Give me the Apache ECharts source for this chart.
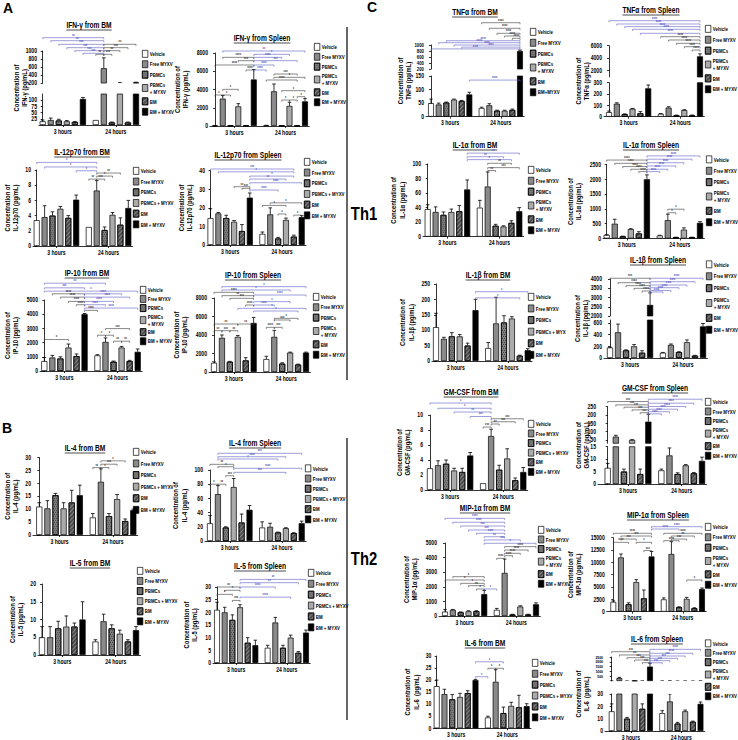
<!DOCTYPE html>
<html><head><meta charset="utf-8">
<script src="https://cdn.jsdelivr.net/npm/echarts@6.0.0/dist/echarts.min.js"></script>
<style>html,body{margin:0;padding:0;background:#fff}#c{width:738px;height:740px}</style>
</head><body><div id="c"></div><script>
const FF = "'Liberation Sans Narrow','Arial Narrow','Liberation Sans',Arial,sans-serif";
const SX = 0.78; // horizontal condensing of all text set in FF
const treatments = ['Vehicle','Free MYXV','PBMCs','PBMCs + MYXV','BM','BM + MYXV'];
const timepoints = ['3 hours','24 hours'];
const legendTwoLine = ['Vehicle','Free MYXV','PBMCs','PBMCs\n+ MYXV','BM','BM + MYXV'];
const legendOneLine = ['Vehicle','Free MYXV','PBMCs','PBMCs + MYXV','BM','BM + MYXV'];
const legendTnfBM = ['Vehicle','Free MYXV','PBMCs','PBMCs\n+ MYXV','BM','BM+MYXV'];
const legendIl1bBM = ['Vehicle','Free MYXV','PBMCs','PBMCs + MYX','BM','BM + MYXV'];

// values: 6 treatments at 3 hours, then 6 treatments at 24 hours
// significance: [barA, barB, y, label, blue]
const ifngBM_mean = [15, 20, 18, 15, 12, 105, 20, 570, 10, 208, 10, 215];
const ifngBM_sem  = [5, 8, 5, 3, 2, 6, 0, 260, 2, 4, 2, 5];
const ifngBM_ticks = [0, 25, 50, 75, 100, 125];
const ifngBM_ticksUp = [200, 400, 600, 800, 1000];
const ifngBM_sig = [[0,7,1333,'**',1],[1,7,1258,'**',1],[2,7,1167,'***',1],[3,7,1083,'***',1],[4,7,1008,'***',1],[5,7,942,'***',1],[7,11,1167,'**',0],[7,10,1083,'***',0],[7,9,1008,'**',0],[6,7,917,'**',0],[7,8,917,'***',0]];

const ifngSp_mean = [40, 3000, 30, 2150, 30, 5100, 60, 3800, 30, 2200, 30, 2700];
const ifngSp_sem  = [20, 350, 10, 300, 10, 1100, 20, 800, 10, 400, 10, 300];
const ifngSp_ticks = [0, 2000, 4000, 6000, 8000];
const ifngSp_sig = [[1,11,8220,'**',1],[5,9,7855,'*',1],[1,5,7525,'****',0],[5,8,7525,'****',1],[3,5,7160,'***',0],[5,10,7160,'***',1],[0,5,6685,'****',0],[5,7,6685,'****',1],[4,5,6137,'****',0],[5,6,6137,'****',1],[7,10,5698,'***',0],[7,11,5333,'*',0],[6,10,5041,'****',0],[1,3,4018,'*',0],[8,11,3872,'*',0],[0,1,3397,'*',0],[1,2,3397,'*',0],[10,11,3214,'*',0],[8,9,2849,'*',0],[9,10,2849,'*',0]];

const il12BM_mean = [3.4, 3.8, 4.0, 4.9, 3.7, 6.1, 2.5, 7.3, 2.1, 4.1, 2.8, 5.0];
const il12BM_sem  = [0, 1.5, 0.5, 0.3, 0.3, 0.6, 0, 1.3, 0.4, 0.3, 0.9, 1.0];
const il12BM_ticks = [0, 2, 4, 6, 8, 10];
const il12BM_sig = [[0,7,11.0,'*',1],[1,7,10.4,'*',1],[5,7,9.9,'*',1],[7,10,9.6,'**',0],[7,9,9.2,'*',0],[6,7,8.8,'**',0],[7,8,8.8,'***',0]];

const il12Sp_mean = [14.5, 17, 14.5, 12.5, 7.5, 25.5, 6, 16.5, 3.5, 13.5, 4.5, 15];
const il12Sp_sem  = [5, 0.5, 1.5, 0.7, 3.5, 2.5, 1, 3.5, 0.6, 1, 0.8, 0.8];
const il12Sp_ticks = [0, 10, 20, 30, 40];
const il12Sp_sig = [[0,10,40.9,'***',1],[1,10,39.4,'*',1],[5,10,37.1,'*',1],[5,9,35.5,'**',1],[5,11,33.5,'****',1],[3,5,31.4,'**',0],[4,5,30.5,'***',0],[5,8,29.6,'****',1],[7,11,22.7,'*',0],[6,9,21.3,'*',0],[8,9,16.7,'*',0],[10,11,16.1,'*',0]];

const ip10BM_mean = [700, 950, 880, 1650, 1050, 4000, 1100, 2050, 650, 1650, 700, 1350];
const ip10BM_sem  = [250, 150, 120, 250, 150, 50, 50, 280, 50, 80, 50, 200];
const ip10BM_ticks = [0, 1000, 2000, 3000, 4000, 5000];
const ip10BM_sig = [[0,7,6183,'**',1],[0,5,5857,'***',1],[0,11,5623,'*',1],[1,5,5437,'****',0],[5,9,5437,'****',1],[2,5,5203,'****',0],[5,10,5203,'****',1],[3,5,4900,'****',0],[5,8,4900,'****',1],[4,5,4667,'****',0],[5,7,4667,'****',1],[5,11,4433,'****',1],[5,6,4270,'****',0],[7,10,2987,'***',0],[0,3,2217,'*',0],[6,7,2520,'*',0],[7,8,2520,'*',0],[8,9,2100,'**',0],[9,10,2100,'**',0]];

const ip10Sp_mean = [1000, 3700, 1100, 3800, 1250, 5300, 1400, 3800, 900, 2100, 800, 2100];
const ip10Sp_sem  = [100, 300, 50, 150, 300, 600, 300, 700, 100, 50, 50, 50];
const ip10Sp_ticks = [0, 2000, 4000, 6000, 8000];
const ip10Sp_sig = [[1,11,9225,'*',1],[1,9,8865,'*',1],[0,5,8613,'****',0],[5,11,8324,'****',1],[1,5,8252,'**',0],[2,5,7963,'***',0],[5,9,7604,'*',1],[4,5,7243,'****',0],[5,7,7243,'****',1],[3,11,6883,'*',1],[5,10,6595,'*',1],[7,10,5802,'*',0],[7,9,5622,'***',0],[0,3,5189,'**',0],[3,5,5189,'**',0],[6,7,4829,'****',0],[7,8,4829,'***',0],[0,1,4468,'**',0],[1,2,4468,'***',0],[2,3,4468,'**',0]];

const il4BM_mean = [11, 10.3, 15.4, 10.3, 12.6, 15.4, 6.8, 20.6, 7.3, 13.9, 5.4, 9.6];
const il4BM_sem  = [1.5, 3, 0.7, 2.2, 4.7, 3.9, 1.5, 5, 1, 1.8, 0.8, 0.4];
const il4BM_ticks = [0, 5, 10, 15, 20, 25, 30];
const il4BM_sig = [[7,10,28.7,'*',0],[7,9,27.4,'***',0],[6,7,26.1,'**',0],[7,8,26.1,'*',0]];

const il4Sp_mean = [25, 66, 19, 76, 26, 44, 19, 20, 12, 18, 11, 25];
const il4Sp_sem  = [11, 12, 1, 12, 12, 6, 8, 5, 0.5, 0.7, 0.7, 3];
const il4Sp_ticks = [0, 20, 40, 60, 80, 100];
const il4Sp_sig = [[1,11,123.5,'***',1],[1,9,118.7,'****',1],[1,8,115.5,'*',1],[0,3,108,'**',0],[1,3,104.6,'*',0],[3,11,102.4,'****',1],[3,9,96.7,'***',1],[2,3,92,'***',0],[0,1,80,'*',0],[1,2,80,'**',0]];

const il5BM_mean = [5, 5, 7.5, 8, 8, 10, 3.8, 9.5, 7.5, 6, 3.8, 7];
const il5BM_sem  = [3, 3, 2, 3, 1, 5, 0.5, 2, 1, 1, 0.5, 1];
const il5BM_ticks = [0, 5, 10, 15, 20];
const il5BM_sig = [];

const il5Sp_mean = [21, 20, 17, 22, 8, 7, 6, 16, 6, 10, 4, 12];
const il5Sp_sem  = [3, 2, 2, 1, 2, 2, 1, 2, 1, 1, 0.5, 1];
const il5Sp_ticks = [0, 5, 10, 15, 20, 25, 30];
const il5Sp_sig = [[3,11,33,'**',1],[3,10,31.7,'**',1],[0,3,30,'**',0],[3,7,30,'****',1],[1,3,28.7,'*',0],[0,2,27.1,'*',0],[3,9,26,'****',1],[2,3,24.7,'***',0]];

const tnfBM_mean = [50, 45, 52, 63, 58, 82, 32, 42, 22, 22, 25, 800];
const tnfBM_sem  = [15, 5, 2, 2, 2, 8, 3, 6, 2, 2, 3, 30];
const tnfBM_ticks = [0, 50, 100, 150];
const tnfBM_ticksUp = [200, 400, 600, 800, 1000];
const tnfBM_sig = [[6,11,1743,'****',0],[7,11,1557,'****',0],[8,11,1390,'****',0],[9,11,1300,'****',0],[10,11,1223,'****',0],[2,11,1143,'****',1],[1,11,1077,'****',1],[3,11,1000,'****',1],[4,11,930,'****',1],[0,11,870,'****',1]];
const tnfBM_sigLow = [[5,11,135,'****',1]];

const tnfSp_mean = [40, 115, 22, 70, 30, 250, 25, 80, 12, 58, 12, 4300];
const tnfSp_sem  = [10, 8, 3, 3, 15, 30, 3, 8, 2, 4, 3, 400];
const tnfSp_ticks = [0, 100, 200, 300];
const tnfSp_ticksUp = [2000, 4000, 6000];
const tnfSp_sig = [[0,11,9990,'****',1],[1,11,9470,'****',1],[2,11,9040,'****',1],[3,11,8620,'****',1],[4,11,7980,'****',1],[6,11,7440,'****',0],[7,11,6910,'****',0],[8,11,6380,'****',0],[9,11,5840,'****',0],[10,11,5310,'****',0]];

const il1aBM_mean = [38, 34, 30, 34, 35, 65, 40, 69, 15, 14, 19, 35];
const il1aBM_sem  = [6, 7, 4, 4, 8, 13, 10, 20, 2, 1, 3, 5];
const il1aBM_ticks = [0, 20, 40, 60, 80, 100];
const il1aBM_sig = [[5,11,115,'**',1],[5,9,110,'**',1],[5,10,106,'*',1],[7,10,101,'**',0],[7,11,95,'***',0],[7,8,91,'**',0]];

const il1aSp_mean = [120, 500, 70, 320, 170, 2000, 100, 620, 40, 300, 40, 530];
const il1aSp_sem  = [10, 150, 10, 10, 60, 150, 10, 200, 5, 60, 5, 40];
const il1aSp_ticks = [0, 500, 1000, 1500, 2000, 2500];
const il1aSp_sig = [[5,11,2790,'****',1],[0,5,2650,'****',0],[5,10,2680,'****',1],[1,5,2540,'****',0],[5,9,2560,'****',1],[2,5,2430,'****',0],[5,8,2450,'****',1],[3,5,2340,'****',0],[5,7,2340,'****',1],[4,5,2260,'****',0],[5,6,2260,'****',1],[7,9,990,'*',0],[7,8,870,'*',0]];

const il1bBM_mean = [110, 72, 80, 80, 50, 165, 42, 122, 125, 138, 17, 35];
const il1bBM_sem  = [45, 5, 12, 6, 8, 35, 18, 85, 22, 6, 2, 5];
const il1bBM_ticks = [0, 50, 100, 150, 200, 250];
const il1bBM_sig = [[5,11,225,'*',1],[5,10,205,'*',1]];

const il1bSp_mean = [180, 440, 130, 200, 90, 2600, 90, 225, 100, 270, 40, 540];
const il1bSp_sem  = [5, 140, 10, 30, 35, 650, 5, 15, 8, 40, 5, 50];
const il1bSp_ticks = [0, 200, 400, 600];
const il1bSp_ticksUp = [2000, 2500, 3000, 3500, 4000];
const il1bSp_sig = [[0,5,4040,'***',0],[5,11,4040,'****',1],[5,10,3854,'****',1],[1,5,3800,'****',0],[5,9,3676,'****',1],[2,5,3640,'****',0],[5,8,3530,'****',1],[3,5,3495,'****',0],[5,7,3380,'****',1],[4,5,3350,'****',0],[5,6,3300,'****',1]];

const gmBM_mean = [2.9, 3.3, 3.5, 2.6, 2.4, 4.6, 0.9, 7.2, 2.7, 4.2, 1.3, 2.4];
const gmBM_sem  = [0, 0.6, 0.5, 0.3, 0.5, 0.4, 0, 0.9, 0.6, 1.3, 0.3, 0.6];
const gmBM_ticks = [0, 2, 4, 6, 8, 10];
const gmBM_sig = [[0,7,11.6,'*',1],[1,7,10.9,'*',1],[3,7,10.4,'**',1],[5,7,9.8,'***',1],[7,11,9.5,'***',0],[7,10,9.1,'***',0],[7,8,8.8,'**',0],[6,7,8.4,'***',0]];

const gmSp_mean = [6.5, 70, 5, 50, 4, 160, 5.5, 11.5, 4, 7.5, 4.3, 9.3];
const gmSp_sem  = [1.8, 8, 1, 2, 2, 45, 0.5, 3, 0.5, 0.3, 0.3, 1.5];
const gmSp_ticks = [0, 5, 10, 15];
const gmSp_ticksUp = [50, 100, 150, 200, 250];
const gmSp_sig = [[5,11,295,'****',1],[0,5,281,'***',0],[5,10,271,'****',1],[1,5,261,'***',0],[5,9,251,'****',1],[2,5,247,'***',0],[5,8,235,'****',1],[3,5,231,'***',0],[5,7,220,'****',1],[4,5,214,'***',0],[5,6,207,'****',1]];

const mipBM_mean = [300, 420, 250, 320, 330, 1500, 420, 2950, 100, 650, 100, 800];
const mipBM_sem  = [150, 30, 30, 40, 30, 250, 100, 950, 20, 50, 20, 100];
const mipBM_ticks = [0, 1000, 2000, 3000, 4000, 5000];
const mipBM_sig = [[0,7,6690,'****',1],[1,7,6420,'****',1],[2,7,6165,'***',1],[3,7,5890,'***',1],[4,7,5665,'****',1],[5,7,5430,'**',1],[5,9,5210,'***',1],[5,11,4980,'*',1],[7,11,4750,'****',0],[7,10,4520,'****',0],[7,9,4295,'****',0],[7,8,4130,'****',0],[6,7,3950,'****',0],[1,5,2694,'*',0],[0,5,2466,'*',0],[2,5,2237,'*',0],[3,5,2078,'**',0],[4,5,1850,'*',0],[5,6,1850,'*',1]];

const mipSp_mean = [2000, 11000, 1500, 6000, 2700, 11200, 2500, 11700, 900, 2600, 700, 4600];
const mipSp_sem  = [200, 700, 300, 500, 1700, 1000, 300, 2500, 100, 300, 100, 200];
const mipSp_ticks = [0, 2500, 5000, 7500, 10000, 12500, 15000];
const mipSp_sig = [[5,11,17230,'****',1],[5,8,16760,'****',1],[0,5,15890,'****',0],[6,11,15890,'****',0],[1,5,15340,'***',0],[7,10,15340,'**',0],[1,3,14730,'***',0],[7,9,14730,'***',0],[0,2,14060,'****',0],[3,5,14060,'*',0],[6,8,14400,'****',0],[4,5,12400,'***',0],[9,11,6425,'*',0]];

const il6BM_mean = [17.5, 14.2, 12, 13, 14.6, 20, 4.5, 19.3, 6.3, 9.3, 8.7, 9.2];
const il6BM_sem  = [2.5, 2, 2, 1.5, 1, 0.3, 0.5, 5, 2.5, 1.5, 5, 1];
const il6BM_ticks = [0, 5, 10, 15, 20, 25, 30];
const il6BM_sig = [[5,8,27.6,'*',1],[5,6,21.4,'*',1],[6,7,24.9,'*',0],[7,8,24.9,'*',0]];

const il6Sp_mean = [16, 300, 10, 31, 18, 1500, 14.5, 24, 6, 16, 7.5, 22];
const il6Sp_sem  = [6, 80, 1, 2, 4, 350, 2, 6, 1, 1, 0.5, 1.5];
const il6Sp_ticks = [0, 10, 20, 30];
const il6Sp_ticksUp = [500, 1000, 1500, 2000, 2500];
const il6Sp_sig = [[5,11,3300,'****',1],[0,5,3055,'***',0],[5,10,2885,'****',1],[1,5,2710,'**',0],[5,9,2605,'***',1],[2,5,2430,'***',0],[5,8,2362,'***',1],[3,5,2188,'***',0],[5,7,2118,'***',1],[4,5,1910,'***',0],[5,6,1900,'***',1]];

const DATA = {
  ifngBM:{mean:ifngBM_mean, sem:ifngBM_sem, ticks:ifngBM_ticks, ticksUp:ifngBM_ticksUp, sig:ifngBM_sig},
  ifngSp:{mean:ifngSp_mean, sem:ifngSp_sem, ticks:ifngSp_ticks, sig:ifngSp_sig},
  il12BM:{mean:il12BM_mean, sem:il12BM_sem, ticks:il12BM_ticks, sig:il12BM_sig},
  il12Sp:{mean:il12Sp_mean, sem:il12Sp_sem, ticks:il12Sp_ticks, sig:il12Sp_sig},
  ip10BM:{mean:ip10BM_mean, sem:ip10BM_sem, ticks:ip10BM_ticks, sig:ip10BM_sig},
  ip10Sp:{mean:ip10Sp_mean, sem:ip10Sp_sem, ticks:ip10Sp_ticks, sig:ip10Sp_sig},
  il4BM:{mean:il4BM_mean, sem:il4BM_sem, ticks:il4BM_ticks, sig:il4BM_sig},
  il4Sp:{mean:il4Sp_mean, sem:il4Sp_sem, ticks:il4Sp_ticks, sig:il4Sp_sig},
  il5BM:{mean:il5BM_mean, sem:il5BM_sem, ticks:il5BM_ticks, sig:il5BM_sig},
  il5Sp:{mean:il5Sp_mean, sem:il5Sp_sem, ticks:il5Sp_ticks, sig:il5Sp_sig},
  tnfBM:{mean:tnfBM_mean, sem:tnfBM_sem, ticks:tnfBM_ticks, ticksUp:tnfBM_ticksUp, sig:tnfBM_sig, sigLow:tnfBM_sigLow},
  tnfSp:{mean:tnfSp_mean, sem:tnfSp_sem, ticks:tnfSp_ticks, ticksUp:tnfSp_ticksUp, sig:tnfSp_sig},
  il1aBM:{mean:il1aBM_mean, sem:il1aBM_sem, ticks:il1aBM_ticks, sig:il1aBM_sig},
  il1aSp:{mean:il1aSp_mean, sem:il1aSp_sem, ticks:il1aSp_ticks, sig:il1aSp_sig},
  il1bBM:{mean:il1bBM_mean, sem:il1bBM_sem, ticks:il1bBM_ticks, sig:il1bBM_sig},
  il1bSp:{mean:il1bSp_mean, sem:il1bSp_sem, ticks:il1bSp_ticks, ticksUp:il1bSp_ticksUp, sig:il1bSp_sig},
  gmBM:{mean:gmBM_mean, sem:gmBM_sem, ticks:gmBM_ticks, sig:gmBM_sig},
  gmSp:{mean:gmSp_mean, sem:gmSp_sem, ticks:gmSp_ticks, ticksUp:gmSp_ticksUp, sig:gmSp_sig},
  mipBM:{mean:mipBM_mean, sem:mipBM_sem, ticks:mipBM_ticks, sig:mipBM_sig},
  mipSp:{mean:mipSp_mean, sem:mipSp_sem, ticks:mipSp_ticks, sig:mipSp_sig},
  il6BM:{mean:il6BM_mean, sem:il6BM_sem, ticks:il6BM_ticks, sig:il6BM_sig},
  il6Sp:{mean:il6Sp_mean, sem:il6Sp_sem, ticks:il6Sp_ticks, ticksUp:il6Sp_ticksUp, sig:il6Sp_sig}
};

// layout (pixel positions/styles only)
const LAYOUT = [
 {k:'ifngBM', t:'IFN-\u03b3 from BM', tx:89, ty:25, n:'IFN-\u03b3 (pg/mL)', no:19, ax:39, b0:42.7, b1:136, lo:[94,125,125], up:[51,83,200,1000], lx:142, ly:50, lg:2, lab:'two'},
 {k:'ifngSp', t:'IFN-\u03b3 from Spleen', tx:262, ty:38, n:'IFN-\u03b3 (pg/mL)', no:20, ax:210, b0:215, b1:305, lo:[53,126,8000], lx:314, ly:43, lg:1.5, lab:'two'},
 {k:'il12BM', t:'IL-12p70 from BM', tx:82, ty:152, n:'IL-12p70 (pg/mL)', no:15, ax:33, b0:36.7, b1:128.3, lo:[170,246,10], lx:133, ly:167, lg:2.3, lab:'one'},
 {k:'il12Sp', t:'IL-12p70 from Spleen', tx:248, ty:155, n:'IL-12p70 (pg/mL)', no:19, ax:207, b0:210.5, b1:301.7, lo:[170.7,245,40], lx:304, ly:158, lg:2.3, lab:'one'},
 {k:'ip10BM', t:'IP-10 from BM', tx:87, ty:273, n:'IP-10 (pg/mL)', no:21, ax:40, b0:44.3, b1:137.7, lo:[300,371,5000], lx:140, ly:286, lg:0.7, lab:'two'},
 {k:'ip10Sp', t:'IP-10 from Spleen', tx:253, ty:275, n:'IP-10 (pg/mL)', no:21, ax:209, b0:214, b1:306, lo:[298,372,8000], lx:313, ly:293, lg:2, lab:'two'},
 {k:'il4BM', t:'IL-4 from BM', tx:85, ty:448, n:'IL-4 (pg/mL)', no:17.5, ax:33, b0:39.3, b1:133.3, lo:[457.5,535,30], lx:133, ly:448, lg:3.2, lab:'one'},
 {k:'il4Sp', t:'IL-4 from Spleen', tx:255, ty:443, n:'IL-4 (pg/mL)', no:17.5, ax:205, b0:210, b1:301.7, lo:[470,541,100], lx:305, ly:464.5, lg:1.8, lab:'one'},
 {k:'il5BM', t:'IL-5 from BM', tx:90, ty:563, n:'IL-5 (pg/mL)', no:19, ax:38, b0:42, b1:136, lo:[584,655,20], lx:137, ly:567, lg:1.7, lab:'one'},
 {k:'il5Sp', t:'IL-5 from Spleen', tx:260, ty:566, n:'IL-5 (pg/mL)', no:23, ax:213, b0:217, b1:306, lo:[587,663,30], lx:308, ly:569, lg:2.5, lab:'one'},
 {k:'tnfBM', t:'TNF\u03b1 from BM', tx:475, ty:12, n:'TNF\u03b1 (pg/mL)', no:22, ax:426, b0:431, b1:520, lo:[76,116.7,150], up:[45,69,200,1000], uf:5.5, lx:530, ly:28, lg:2.5, lab:'tnf'},
 {k:'tnfSp', t:'TNF\u03b1 from Spleen', tx:651, ty:10, n:'TNF\u03b1 (pg/mL)', no:22, ax:604, b0:609, b1:700, lo:[82.7,116.7,300], up:[45.7,77,1000,6000], lx:705, ly:25, lg:2.5, lab:'two'},
 {k:'il1aBM', t:'IL-1\u03b1 from BM', tx:475, ty:145, n:'IL-1\u03b1 (pg/mL)', no:19, ax:423, b0:427.7, b1:519.3, lo:[164,236.7,100], lx:528, ly:166, lg:2.5, lab:'two'},
 {k:'il1aSp', t:'IL-1\u03b1 from Spleen', tx:651, ty:145, n:'IL-1\u03b1 (pg/mL)', no:24, ax:603, b0:606.7, b1:700, lo:[164.5,238.5,2500], lx:706, ly:155.5, lg:3, lab:'two'},
 {k:'il1bBM', t:'IL-1\u03b2 from BM', tx:488, ty:275, n:'IL-1\u03b2 (pg/mL)', no:16, ax:432, b0:436, b1:527.7, lo:[284,361,250], lx:528, ly:293, lg:3.2, lab:'il1b'},
 {k:'il1bSp', t:'IL-1\u03b2 from Spleen', tx:658, ty:260, n:'IL-1\u03b2 (pg/mL)', no:23, ax:604, b0:610, b1:703, lo:[320,358,650], up:[279,316,2000,4000], lx:706, ly:260.5, lg:3.5, lab:'two'},
 {k:'gmBM', t:'GM-CSF from BM', tx:471, ty:392, n:'GM-CSF (pg/mL)', no:15, ax:425, b0:430, b1:523.3, lo:[415,490,10], lx:528, ly:420, lg:1.2, lab:'one'},
 {k:'gmSp', t:'GM-CSF from Spleen', tx:655, ty:388, n:'GM-CSF (pg/mL)', no:16, ax:598, b0:607.7, b1:702, lo:[446.7,484,15], up:[406.7,443.3,30,250], lx:705, ly:398, lg:1.2, lab:'two'},
 {k:'mipBM', t:'MIP-1\u03b1 from BM', tx:485, ty:508, n:'MIP-1\u03b1 (pg/mL)', no:20, ax:439, b0:445, b1:536, lo:[543,616,5000], lx:538, ly:526, lg:1.2, lab:'two'},
 {k:'mipSp', t:'MIP-1\u03b1 from Spleen', tx:658, ty:515, n:'MIP-1\u03b1 (pg/mL)', no:16, ax:606.7, b0:613.3, b1:702, lo:[537.7,611.7,15000], lx:705, ly:523, lg:2, lab:'two'},
 {k:'il6BM', t:'IL-6 from BM', tx:485, ty:643, n:'IL-6  (pg/mL)', no:17, ax:433.3, b0:436.7, b1:526.7, lo:[656,728.3,30], lx:532, ly:659, lg:2.5, lab:'one'},
 {k:'il6Sp', t:'IL-6 from Spleen', tx:657, ty:639, n:'IL-6  (pg/mL)', no:23, ax:605, b0:611.7, b1:700.5, lo:[694,731,30], up:[657,681,0,2500], uf:4.4, lx:705, ly:639.5, lg:1, lab:'two'}
];

const LBL = {two:legendTwoLine, one:legendOneLine, tnf:legendTnfBM, il1b:legendIl1bBM};
const STYLES = [
  {color:'#ffffff'},
  {color:'#8a8a8a'},
  {color:'#7a7a7a', decal:{symbol:'rect', symbolSize:1, dashArrayX:[[1,1],[0,1,1,0]], dashArrayY:[1,1], color:'rgba(0,0,0,0.3)'}},
  {color:'#ababab'},
  {color:'#4d4d4d', decal:{symbol:'rect', symbolSize:1, dashArrayX:[1,0], dashArrayY:[1,2], rotation:-Math.PI/4, color:'rgba(255,255,255,0.3)'}},
  {color:'#000000'}
];
const GO = 0.6;
const xpos = i => i + (i >= 6 ? GO : 0);
const LAST = 11 + GO;
const C3 = 2.5, C24 = 6 + GO + 2.5;
const LS = {color:'#000', width:0.8};

function errRender(capW){
  return function(params, api){
    const x = api.value(0), m = api.value(1), e = api.value(2);
    const p0 = api.coord([x, m]), p1 = api.coord([x, m + e]);
    const c = capW / 2;
    return {type:'group', children:[
      {type:'line', shape:{x1:p0[0], y1:p0[1], x2:p1[0], y2:p1[1]}, style:{stroke:'#000', lineWidth:0.8}},
      {type:'line', shape:{x1:p1[0]-c, y1:p1[1], x2:p1[0]+c, y2:p1[1]}, style:{stroke:'#000', lineWidth:0.8}}
    ]};
  };
}
function sigRender(list){
  return function(params, api){
    const s = list[params.dataIndex];
    const a = api.coord([api.value(0), api.value(2)]);
    const b = api.coord([api.value(1), api.value(2)]);
    const col = s[4] ? '#5c5cc4' : '#3a3a3a';
    return {type:'group', children:[
      {type:'polyline', shape:{points:[[a[0], a[1]+1.6],[a[0], a[1]],[b[0], b[1]],[b[0], b[1]+1.6]]}, style:{stroke:col, lineWidth:0.6, fill:null}},
      {type:'text', x:(a[0]+b[0])/2, y:a[1]+0.8, style:{text:s[3], fill:col, fontSize:4.5, fontFamily:FF, fontWeight:'bold', align:'center', verticalAlign:'bottom'}}
    ]};
  };
}

const opt = {animation:false, backgroundColor:'#fff', textStyle:{fontFamily:FF}, grid:[], xAxis:[], yAxis:[], series:[], legend:[], graphic:{elements:[]}};
const G = opt.graphic.elements;
const mctx = document.createElement('canvas').getContext('2d');
const TITLE_FONT = 'bold 8.5px ' + FF;
mctx.font = TITLE_FONT;

function nameOpts(L){
  return {name:'Concentration of\n' + L.n, nameLocation:'middle', nameRotate:90, nameGap:L.no - 8.5,
    nameTextStyle:{fontSize:7.5, lineHeight:8.5, fontFamily:FF, fontWeight:'bold', color:'#000', align:'center'}};
}

LAYOUT.forEach(L => {
  const D = DATA[L.k];
  const slot = (L.b1 - L.b0) / LAST;
  const xmin = -(L.b0 - L.ax) / slot, xmax = LAST + 0.55;
  const width = (xmax - xmin) * slot;
  const bw = slot * 0.76;
  const broken = !!L.up;
  const segs = [{top:L.lo[0], bot:L.lo[1], min:0, max:L.lo[2], ticks:D.ticks, low:true, fs:6.5}];
  if (broken) segs.push({top:L.up[0], bot:L.up[1], min:L.up[2], max:L.up[3], ticks:D.ticksUp, low:false, fs:L.uf || 6.5});
  segs.forEach(S => {
    const gi = opt.grid.length;
    opt.grid.push({left:L.ax, top:S.top, width:width, height:S.bot - S.top, containLabel:false, outerBoundsMode:'none'});
    opt.xAxis.push({gridIndex:gi, type:'value', min:xmin, max:xmax, show:S.low,
      axisLine:{show:true, lineStyle:LS},
      axisTick:{show:true, customValues:[C3, C24], length:2, lineStyle:LS},
      axisLabel:{show:true, customValues:[C3, C24], formatter:v => v < 6 ? timepoints[0] : timepoints[1], fontSize:6.5, fontWeight:'bold', color:'#000', margin:3, fontFamily:FF},
      splitLine:{show:false}});
    const ya = {gridIndex:gi, type:'value', min:S.min, max:S.max,
      axisLine:{show:true, lineStyle:LS},
      axisTick:{show:true, customValues:S.ticks, length:2, lineStyle:LS},
      axisLabel:{show:true, customValues:S.ticks, formatter:v => String(v), fontSize:S.fs, fontWeight:'bold', color:'#000', margin:2, fontFamily:FF},
      splitLine:{show:false}};
    if (!broken) Object.assign(ya, nameOpts(L));
    opt.yAxis.push(ya);
    const xi = opt.xAxis.length - 1, yi = opt.yAxis.length - 1;
    treatments.forEach((tn, t) => {
      let pts = [[xpos(t), D.mean[t]], [xpos(t + 6), D.mean[t + 6]]];
      if (!S.low) pts = pts.filter(p => p[1] > L.lo[2]);
      opt.series.push({type:'bar', name:tn, xAxisIndex:xi, yAxisIndex:yi, data:pts, barWidth:bw, barGap:'-100%', clip:true,
        itemStyle:Object.assign({borderColor:'#000', borderWidth:0.7}, STYLES[t]), emphasis:{disabled:true}, silent:true, z:2});
    });
    const errData = [];
    D.mean.forEach((m, i) => { if (D.sem[i] > 0) errData.push([xpos(i), m, D.sem[i]]); });
    opt.series.push({type:'custom', xAxisIndex:xi, yAxisIndex:yi, data:errData, clip:broken, renderItem:errRender(bw * 0.6), silent:true, z:3});
    const sl = broken ? (S.low ? D.sigLow : D.sig) : D.sig;
    if (sl && sl.length) opt.series.push({type:'custom', xAxisIndex:xi, yAxisIndex:yi, data:sl.map(s => [xpos(s[0]), xpos(s[1]), s[2]]), clip:false, renderItem:sigRender(sl), silent:true, z:4});
  });
  if (broken) {
    const gi = opt.grid.length;
    opt.grid.push({left:L.ax, top:L.up[0], width:width, height:L.lo[1] - L.up[0], containLabel:false, outerBoundsMode:'none'});
    opt.xAxis.push({gridIndex:gi, type:'value', show:false, min:0, max:1});
    opt.yAxis.push(Object.assign({gridIndex:gi, type:'value', min:0, max:1, axisLine:{show:false}, axisTick:{show:false}, axisLabel:{show:false}, splitLine:{show:false}}, nameOpts(L)));
  }
  const labels = LBL[L.lab];
  opt.legend.push({orient:'vertical', left:L.lx, top:L.ly, itemWidth:5.5, itemHeight:7, itemGap:L.lg + 0.7, padding:0, selectedMode:false,
    icon:'rect', data:treatments.slice(), formatter:n => labels[treatments.indexOf(n)],
    itemStyle:{borderColor:'#000', borderWidth:0.7},
    textStyle:{fontSize:5.6, lineHeight:6.8, fontFamily:FF, fontWeight:'bold', color:'#000', padding:[0,0,0,-3]}});
  const w = mctx.measureText(L.t).width * SX;
  G.push({type:'text', x:L.tx, y:L.ty, silent:true, style:{text:L.t, fill:'#000', font:TITLE_FONT, textAlign:'center', textVerticalAlign:'middle', align:'center', verticalAlign:'middle'}});
  G.push({type:'line', silent:true, shape:{x1:L.tx - w/2, y1:L.ty + 5, x2:L.tx + w/2, y2:L.ty + 5}, style:{stroke:'#000', lineWidth:0.7}});
});

// panel letters, Th labels and separators
[['A',3,8],['B',2,428],['C',367,7]].forEach(p => G.push({type:'text', x:p[1], y:p[2], silent:true, style:{text:p[0], fill:'#000', font:'bold 14px Arial, sans-serif', textAlign:'left', textVerticalAlign:'middle', align:'left', verticalAlign:'middle'}}));
[['Th1',364,214],['Th2',364,559]].forEach(p => G.push({type:'text', x:p[1], y:p[2], silent:true, style:{text:p[0], fill:'#000', font:'bold 19px ' + FF, textAlign:'center', textVerticalAlign:'middle', align:'center', verticalAlign:'middle'}}));
G.push({type:'line', silent:true, shape:{x1:347, y1:27, x2:347, y2:380}, style:{stroke:'#000', lineWidth:1.2}});
G.push({type:'line', silent:true, shape:{x1:347, y1:438, x2:347, y2:720}, style:{stroke:'#000', lineWidth:1.2}});

const chart = echarts.init(document.getElementById('c'), null, {renderer:'svg', width:738, height:740});
chart.setOption(opt);

// condense text horizontally (narrow typeface look), keeping each text's anchor in place
function condense(){
  document.querySelectorAll('#c svg text').forEach(t => {
    const cur = t.getAttribute('transform') || '';
    if (t.__cond !== undefined && t.__cond === cur) return;
    const fam = (getComputedStyle(t).fontFamily || '') + (t.getAttribute('style') || '') + (t.getAttribute('font-family') || '');
    if (fam.indexOf('Narrow') < 0) { t.__cond = cur; return; }
    const x = parseFloat(t.getAttribute('x') || '0') || 0;
    const nt = (cur ? cur + ' ' : '') + 'translate(' + x + ' 0) scale(' + SX + ' 1) translate(' + (-x) + ' 0)';
    t.setAttribute('transform', nt);
    t.__cond = nt;
  });
}
condense();
chart.on('finished', condense);
setTimeout(condense, 30);
setTimeout(condense, 300);
</script></body></html>
